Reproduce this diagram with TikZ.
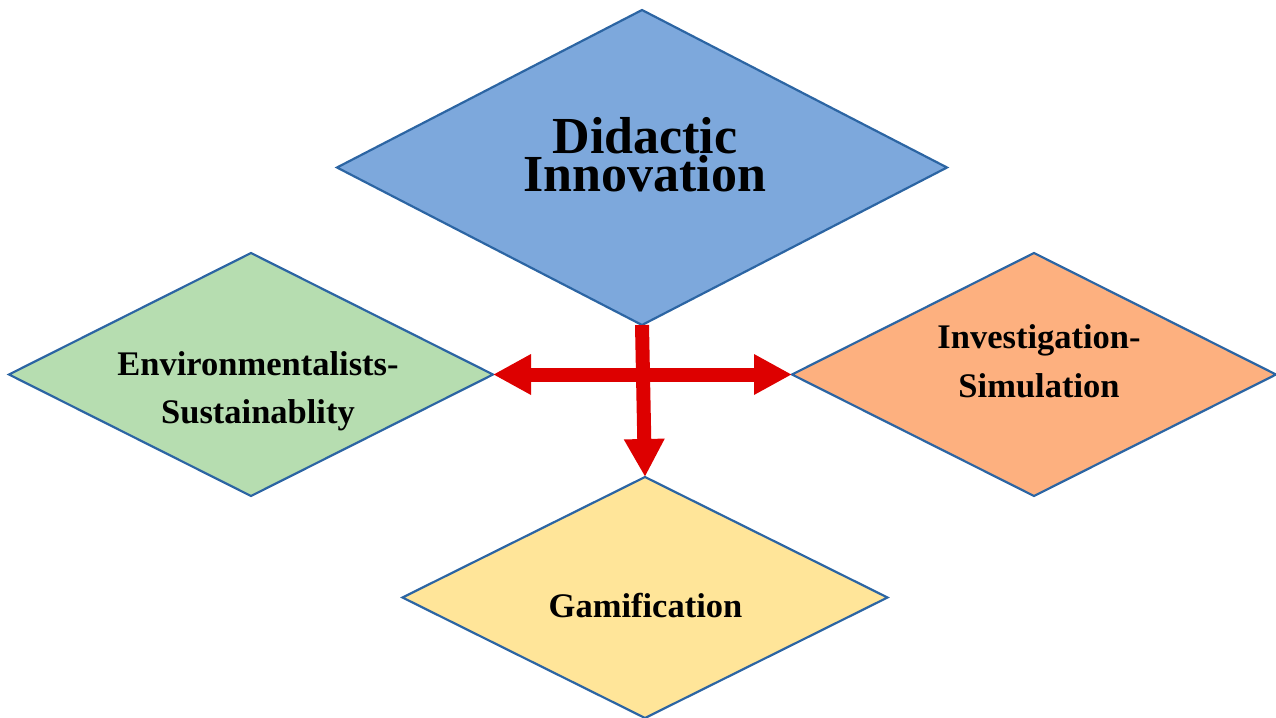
\documentclass[tikz,border=0pt]{standalone}
\usepackage{fontspec}
\setmainfont{Liberation Serif}
\usetikzlibrary{shapes.geometric,arrows.meta}
\definecolor{didblue}{HTML}{7DA8DC}
\definecolor{envgreen}{HTML}{B6DDB0}
\definecolor{invorange}{HTML}{FDB07F}
\definecolor{gamyellow}{HTML}{FFE599}
\definecolor{edgeblue}{HTML}{2C65A3}
\definecolor{arrowred}{HTML}{DD0000}
\begin{document}
\begin{tikzpicture}[x=1pt,y=-1pt,
  dia/.style={diamond,draw=edgeblue,line width=2.2pt,inner sep=0pt,outer sep=0pt},
  lbl/.style={font=\bfseries\fontsize{34.5}{48.5}\selectfont,align=center,inner sep=0pt},
  biglbl/.style={font=\bfseries\fontsize{52}{36}\selectfont,align=center,inner sep=0pt},
  tipa/.tip={Triangle[length=38pt,width=38pt]},
  bigarrow/.style={draw=arrowred,line width=14pt}
]
\useasboundingbox (0,0) rectangle (1276,717);
\node[dia,fill=didblue,minimum width=610pt,minimum height=315pt] (did) at (642,167.5) {};
\node[dia,fill=envgreen,minimum width=484pt,minimum height=243pt] (env) at (251,374.5) {};
\node[dia,fill=invorange,minimum width=484pt,minimum height=243pt] (inv) at (1034,374.5) {};
\node[dia,fill=gamyellow,minimum width=485pt,minimum height=241pt] (gam) at (645,597.5) {};
\node[biglbl] (didtext) at (645,155) {Didactic\\Innovation};
\node[lbl] (envtext) at (258,391) {Environmentalists-\\Sustainablity};
\node[lbl] (invtext) at (1039,361) {Investigation-\\Simulation};
\node[lbl] (gamtext) at (645.5,605.5) {Gamification};
\draw[bigarrow,tipa-tipa] (env.east) -- (inv.west);
\draw[bigarrow,-tipa] (did.south) -- (gam.north);
\end{tikzpicture}
\end{document}
